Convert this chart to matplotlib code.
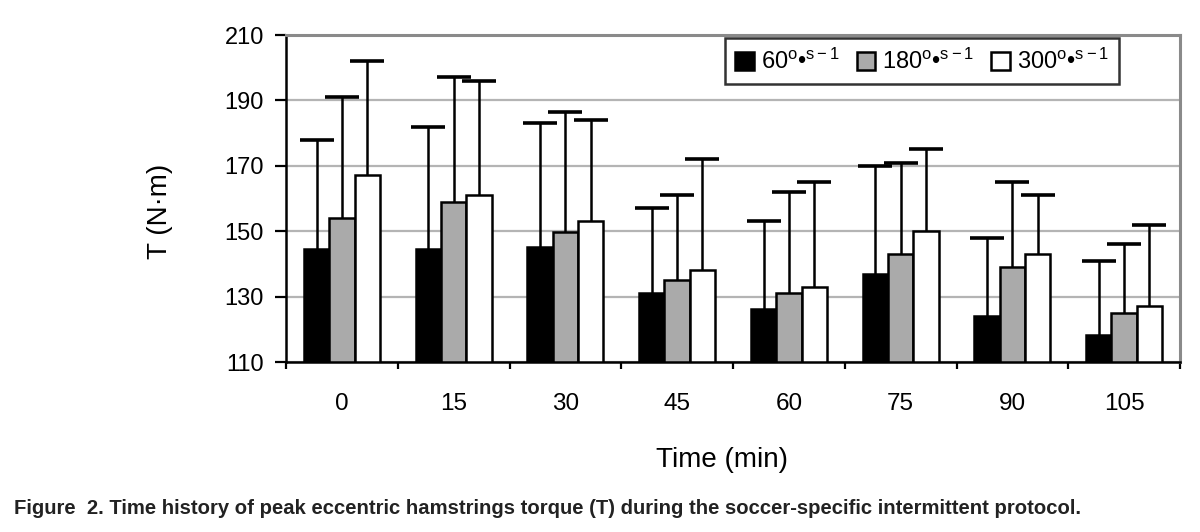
import matplotlib
matplotlib.use("Agg")
import matplotlib.pyplot as plt
import numpy as np

plt.rcParams['font.family'] = ['Liberation Sans', 'DejaVu Sans']
plt.rcParams['mathtext.fontset'] = 'custom'
plt.rcParams['mathtext.rm'] = 'Liberation Sans'
plt.rcParams['mathtext.it'] = 'Liberation Sans'

# data (N·m)
times = ["0", "15", "30", "45", "60", "75", "90", "105"]
series = [r"60$^{\rm o}$•$^{\rm s-1}$", r"180$^{\rm o}$•$^{\rm s-1}$", r"300$^{\rm o}$•$^{\rm s-1}$"]
mean60 = [144.5, 144.5, 145.3, 131, 126.3, 137, 124.2, 118.2]
mean180 = [154, 159, 149.8, 135, 131, 143, 139, 125]
mean300 = [167.2, 161, 153.2, 138, 133, 150, 143, 127]
top60 = [178, 182, 183.2, 157, 153, 170, 148, 141]
top180 = [191, 197.2, 186.3, 161, 162, 171, 165, 146]
top300 = [202, 196, 184, 172, 165, 175, 161, 152]

means = [mean60, mean180, mean300]
tops = [top60, top180, top300]
colors = ["black", "#aaaaaa", "white"]

fig = plt.figure(figsize=(12, 5.32), dpi=100)
ax = fig.add_axes([286/1200, 1 - 362/532, 894/1200, 327/532])

x = np.arange(len(times))
w = 0.227
for i in range(3):
    m = np.array(means[i])
    err = np.array(tops[i]) - m
    xs = x + (i - 1) * w
    ax.bar(xs, m - 110, bottom=110, width=w, color=colors[i], edgecolor="black",
           linewidth=1.8, label=series[i], zorder=3)
    eb = ax.errorbar(xs, m, yerr=[np.zeros_like(err), err], fmt="none", ecolor="black",
                     elinewidth=1.8, capsize=12, capthick=2.6, zorder=2)
    eb[1][0].set_visible(False)   # only the upper cap, like the original

ax.set_ylim(110, 210)
ax.set_xlim(-0.5, len(times) - 0.5)
ax.set_yticks(np.arange(110, 211, 20))
ax.yaxis.grid(True, color="#b4b4b4", linewidth=1.6, zorder=0)
ax.set_axisbelow(True)

ax.set_xticks(x)
ax.set_xticklabels(times)
ax.set_xticks(np.arange(-0.5, len(times)), minor=True)
ax.tick_params(axis="x", which="major", length=0, pad=22, labelsize=17.5)
ax.tick_params(axis="x", which="minor", length=5, width=1.6, direction="out")
ax.tick_params(axis="y", length=8, width=1.6, direction="out", pad=8, labelsize=17)

for s in ["left", "bottom"]:
    ax.spines[s].set_linewidth(1.8)
    ax.spines[s].set_color("black")
for s in ["top", "right"]:
    ax.spines[s].set_linewidth(2.2)
    ax.spines[s].set_color("#8a8a8a")

ax.set_ylabel("T (N·m)", fontsize=20)
ax.yaxis.set_label_coords(-0.126, 0.46)
ax.set_xlabel("Time (min)", fontsize=20)
ax.xaxis.set_label_coords(0.488, -0.30)
ax.xaxis.label.set_va("center")

leg = ax.legend(loc="upper right", ncol=3, bbox_to_anchor=(0.932, 0.991), fontsize=17,
                frameon=True, fancybox=False, edgecolor="black", handlelength=0.8,
                handleheight=0.8, handletextpad=0.3, columnspacing=0.7,
                borderpad=0.45, borderaxespad=0.0)
leg.get_frame().set_linewidth(1.8)

fig.text(14/1200, 1 - 508/532,
         "Figure  2. Time history of peak eccentric hamstrings torque (T) during the soccer-specific intermittent protocol.",
         fontsize=14.6, fontweight="bold", va="center", ha="left", color="#222222")

fig.savefig("out.png", dpi=100)
